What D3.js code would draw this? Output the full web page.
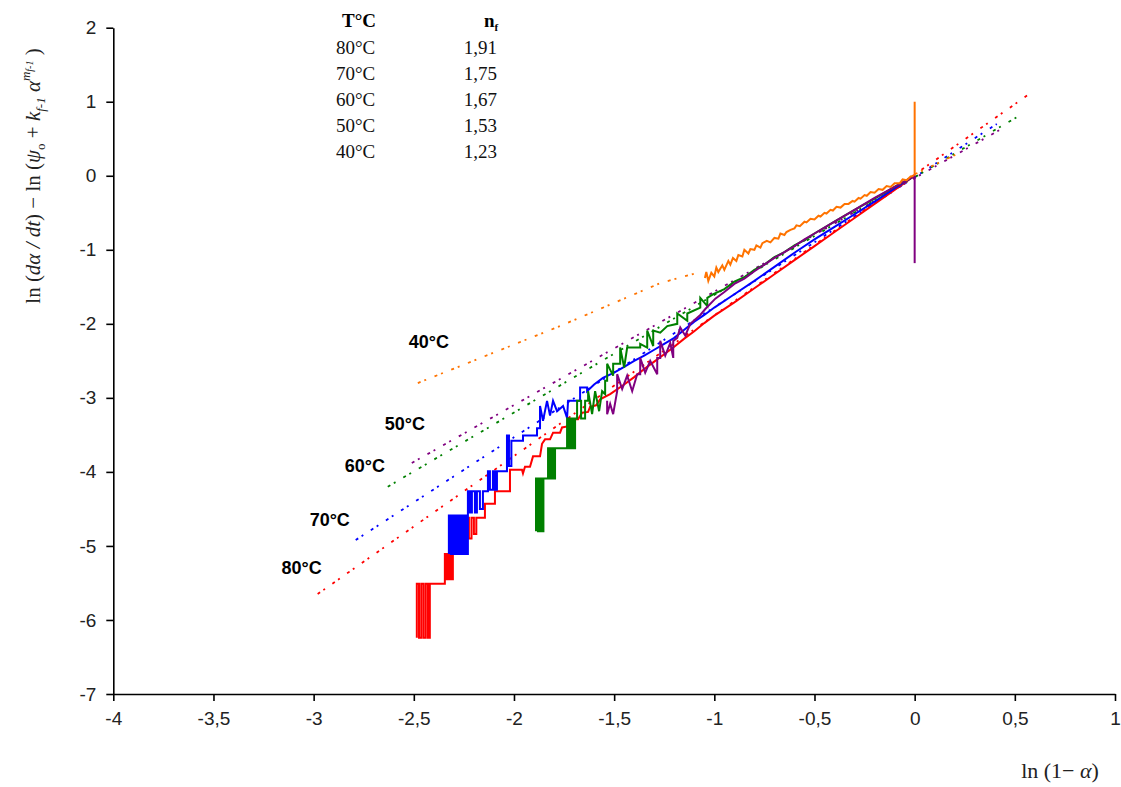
<!DOCTYPE html>
<html><head><meta charset="utf-8">
<script src="https://cdn.jsdelivr.net/npm/d3@7"></script>
<style>body{margin:0;background:#fff} svg{display:block}</style>
</head><body>
<svg id="chart" width="1121" height="787"></svg>
<script>
// ---------- data ----------
const temps = ["80°C", "70°C", "60°C", "50°C", "40°C"];
const nfValues = ["1,91", "1,75", "1,67", "1,53", "1,23"];
const xTicks = [-4, -3.5, -3, -2.5, -2, -1.5, -1, -0.5, 0, 0.5, 1];
const xTickLabels = ["-4", "-3,5", "-3", "-2,5", "-2", "-1,5", "-1", "-0,5", "0", "0,5", "1"];
const yTicks = [2, 1, 0, -1, -2, -3, -4, -5, -6, -7];
const yTickLabels = ["2", "1", "0", "-1", "-2", "-3", "-4", "-5", "-6", "-7"];

// fitted (dotted) lines
const fit80 = [[-2.98, -5.65], [0.575, 1.11]];
const fit70 = [[-2.79, -4.92], [0.41, 0.70]];
const fit60 = [[-2.63, -4.2], [0.54, 0.84]];
const fit50 = [[-2.51, -3.88], [0.425, 0.62]];
const fit40a = [[-2.48, -2.8], [-1.77, -2.03], [-1.27, -1.45], [-1.07, -1.3]];
const fit40b = [[0, 0.02], [0.24, 0.33]];

// experimental curves (solid)
const curve80 = [
  [-2.485,-6.24],[-2.485,-5.51],[-2.474,-5.51],[-2.474,-6.24],[-2.463,-6.24],[-2.463,-5.51],[-2.452,-5.51],[-2.452,-6.24],[-2.441,-6.24],[-2.441,-5.51],[-2.43,-5.51],[-2.43,-6.24],[-2.42,-6.24],[-2.42,-5.51],
  [-2.345,-5.51],[-2.345,-5.11],[-2.335,-5.11],[-2.335,-5.45],[-2.325,-5.45],[-2.325,-5.11],[-2.315,-5.11],[-2.315,-5.45],[-2.305,-5.45],[-2.305,-5.11],[-2.3,-5.11],
  [-2.235,-5.11],[-2.235,-4.62],[-2.225,-4.62],[-2.225,-4.9],[-2.212,-4.9],[-2.212,-4.62],[-2.2,-4.62],[-2.2,-4.84],[-2.188,-4.84],[-2.188,-4.62],
  [-2.145,-4.62],[-2.145,-4.43],[-2.095,-4.43],[-2.095,-4.26],[-2.055,-4.26],[-2.02,-4.26],[-2.02,-3.97],[-1.96,-3.97],[-1.955,-4.02],[-1.945,-3.93],
  [-1.92,-3.93],[-1.905,-3.79],[-1.87,-3.79],[-1.86,-3.62],[-1.845,-3.56],[-1.82,-3.56],[-1.805,-3.47],[-1.77,-3.47],[-1.76,-3.4],[-1.72,-3.38],
  [-1.71,-3.29],[-1.68,-3.29],[-1.66,-3.2],[-1.63,-3.19],[-1.62,-3.12],[-1.59,-3.1],[-1.57,-3.02],[-1.52,-2.95],
  [-1.45,-2.82],[-1.4,-2.72],[-1.35,-2.61],[-1.3,-2.51],[-1.25,-2.41],[-1.2,-2.31],[-1.15,-2.2],[-1.1,-2.1],[-1.05,-1.99],[-1.0,-1.89],
  [-0.9,-1.71],[-0.8,-1.52],[-0.7,-1.33],[-0.6,-1.14],[-0.5,-0.95],[-0.4,-0.76],[-0.3,-0.57],[-0.2,-0.38],[-0.1,-0.19],[0,0]
];
const curve70 = [
  [-2.325,-5.11],[-2.325,-4.59],[-2.315,-4.59],[-2.315,-5.11],[-2.305,-5.11],[-2.305,-4.59],[-2.295,-4.59],[-2.295,-5.11],[-2.285,-5.11],[-2.285,-4.59],
  [-2.275,-4.59],[-2.275,-5.11],[-2.265,-5.11],[-2.265,-4.59],[-2.255,-4.59],[-2.255,-5.11],[-2.245,-5.11],[-2.245,-4.59],[-2.238,-4.59],[-2.238,-5.11],
  [-2.23,-5.11],[-2.23,-4.26],[-2.22,-4.26],[-2.22,-4.55],[-2.21,-4.55],[-2.21,-4.26],[-2.195,-4.26],[-2.195,-4.55],[-2.185,-4.55],[-2.185,-4.26],[-2.17,-4.26],[-2.17,-4.5],[-2.155,-4.5],[-2.155,-4.26],
  [-2.13,-4.26],[-2.13,-3.99],[-2.12,-3.99],[-2.12,-4.24],[-2.105,-4.24],[-2.105,-3.99],[-2.095,-3.99],[-2.095,-4.24],[-2.085,-4.24],[-2.085,-3.99],
  [-2.035,-3.99],[-2.035,-3.51],[-2.025,-3.51],[-2.025,-3.92],[-2.013,-3.92],[-2.013,-3.58],[-1.995,-3.58],
  [-1.955,-3.58],[-1.955,-3.51],[-1.885,-3.51],[-1.885,-3.41],[-1.87,-3.41],[-1.87,-3.11],[-1.855,-3.31],[-1.835,-3.04],[-1.82,-3.24],[-1.805,-3.04],
  [-1.785,-3.18],[-1.755,-3.11],[-1.735,-3.27],[-1.73,-3.04],[-1.67,-3.04],[-1.67,-2.86],[-1.635,-2.86],[-1.635,-2.91],[-1.6,-2.82],[-1.556,-2.73],
  [-1.5,-2.66],[-1.45,-2.58],[-1.4,-2.5],[-1.35,-2.43],[-1.3,-2.35],[-1.25,-2.27],[-1.2,-2.19],[-1.15,-2.08],[-1.1,-1.97],[-1.05,-1.88],[-1.0,-1.78],
  [-0.9,-1.6],[-0.8,-1.42],[-0.7,-1.23],[-0.6,-1.04],[-0.5,-0.86],[-0.4,-0.69],[-0.3,-0.52],[-0.2,-0.35],[-0.1,-0.17],[0,0]
];
const curve60 = [
  [-1.89,-4.8],[-1.89,-4.09],[-1.88,-4.09],[-1.88,-4.8],[-1.87,-4.8],[-1.87,-4.09],[-1.86,-4.09],[-1.86,-4.8],[-1.853,-4.8],[-1.853,-4.09],
  [-1.83,-4.09],[-1.83,-3.68],[-1.82,-3.68],[-1.82,-4.09],[-1.81,-4.09],[-1.81,-3.68],[-1.8,-3.68],[-1.8,-4.09],[-1.795,-4.09],[-1.795,-3.68],
  [-1.735,-3.68],[-1.735,-3.28],[-1.725,-3.28],[-1.725,-3.68],[-1.715,-3.68],[-1.715,-3.28],[-1.705,-3.28],[-1.705,-3.68],[-1.695,-3.68],[-1.695,-3.28],
  [-1.685,-3.28],[-1.685,-3.04],[-1.665,-3.04],[-1.665,-3.28],[-1.645,-3.28],[-1.645,-3.04],[-1.63,-3.04],[-1.63,-2.91],[-1.61,-3.22],[-1.595,-2.91],
  [-1.575,-3.18],[-1.56,-2.91],[-1.545,-2.95],[-1.545,-2.77],[-1.535,-2.77],[-1.535,-2.54],[-1.505,-2.7],[-1.505,-2.54],[-1.47,-2.54],[-1.47,-2.32],
  [-1.45,-2.59],[-1.435,-2.32],[-1.37,-2.32],[-1.37,-2.27],[-1.335,-2.32],[-1.335,-2.09],[-1.305,-2.3],[-1.305,-2.09],[-1.27,-2.12],[-1.235,-2.03],
  [-1.185,-2.0],[-1.185,-1.86],[-1.135,-1.96],[-1.135,-1.86],[-1.07,-1.78],[-1.07,-1.65],[-1.035,-1.76],[-1.035,-1.65],[-1.005,-1.6],
  [-0.95,-1.53],[-0.9,-1.43],[-0.85,-1.37],[-0.8,-1.27],[-0.75,-1.2],[-0.7,-1.1],[-0.65,-1.03],[-0.6,-0.94],[-0.55,-0.87],[-0.5,-0.78],
  [-0.4,-0.62],[-0.3,-0.46],[-0.2,-0.31],[-0.1,-0.15],[0,0]
];
const curve50 = [
  [-1.535,-3.04],[-1.535,-3.22],[-1.52,-3.08],[-1.505,-3.22],[-1.485,-2.91],[-1.485,-2.68],[-1.46,-2.88],[-1.435,-2.7],[-1.41,-2.91],[-1.385,-2.68],
  [-1.37,-2.68],[-1.37,-2.46],[-1.345,-2.66],[-1.32,-2.5],[-1.285,-2.68],[-1.285,-2.46],[-1.27,-2.46],[-1.27,-2.23],[-1.245,-2.43],[-1.22,-2.26],
  [-1.205,-2.46],[-1.205,-2.23],[-1.185,-2.19],[-1.17,-2.05],[-1.145,-2.16],[-1.12,-2.0],[-1.07,-1.88],[-1.045,-1.8],[-0.995,-1.66],
  [-0.95,-1.57],[-0.9,-1.46],[-0.85,-1.39],[-0.8,-1.29],[-0.75,-1.2],[-0.7,-1.11],[-0.65,-1.03],[-0.6,-0.95],[-0.55,-0.86],[-0.5,-0.78],
  [-0.4,-0.62],[-0.3,-0.46],[-0.2,-0.3],[-0.1,-0.15],[0,0]
];
const curve40 = [
  [-1.047,-1.38],[-1.04,-1.3],[-1.03,-1.42],[-1.015,-1.31],[-1.0,-1.36],[-0.99,-1.24],[-0.98,-1.3],[-0.96,-1.21],[-0.95,-1.27],[-0.93,-1.15],
  [-0.92,-1.2],[-0.907,-1.11],[-0.89,-1.15],[-0.88,-1.07],[-0.86,-1.09],[-0.85,-1.0],[-0.83,-1.05],[-0.82,-0.99],[-0.8,-1.0],[-0.79,-0.94],
  [-0.77,-0.97],[-0.76,-0.91],[-0.738,-0.88],[-0.72,-0.9],[-0.7,-0.84],[-0.68,-0.85],[-0.67,-0.78],[-0.65,-0.8],[-0.64,-0.76],[-0.62,-0.73],
  [-0.6,-0.71],[-0.59,-0.67],[-0.573,-0.68],[-0.55,-0.62],[-0.54,-0.63],[-0.52,-0.58],[-0.5,-0.59],[-0.48,-0.54],[-0.47,-0.55],[-0.45,-0.5],
  [-0.44,-0.51],[-0.42,-0.46],[-0.408,-0.47],[-0.39,-0.42],[-0.37,-0.43],[-0.35,-0.38],[-0.33,-0.38],[-0.31,-0.34],[-0.3,-0.35],[-0.28,-0.3],
  [-0.27,-0.31],[-0.25,-0.26],[-0.239,-0.27],[-0.22,-0.22],[-0.2,-0.23],[-0.18,-0.18],[-0.16,-0.19],[-0.14,-0.14],[-0.12,-0.15],[-0.1,-0.1],
  [-0.074,-0.1],[-0.06,-0.05],[-0.04,-0.06],[-0.02,-0.01],[0,0]
];
const spike40 = [[0, 0], [0, 1.0]];
const spike50 = [[0, 0], [0, -1.18]];

// temperature label anchors (data units)
const labelX = [-3.16, -3.02, -2.845, -2.645, -2.525];
const labelY = [-5.38, -4.73, -4.0, -3.44, -2.32];

// ---------- drawing ----------
const colors = {"80°C":"#ff0000","70°C":"#0000ff","60°C":"#008000","50°C":"#800080","40°C":"#ff7300"};
const svg = d3.select("#chart");
const x = d3.scaleLinear().domain([-4, 1]).range([113.3, 1115]);
const y = d3.scaleLinear().domain([-7, 2]).range([694, 27.7]);
const line = d3.line().x(d => x(d[0])).y(d => y(d[1]));

// axes
const gx = svg.append("g").attr("transform", `translate(0,${y(-7)})`)
  .call(d3.axisBottom(x).tickValues(xTicks).tickFormat((d, i) => xTickLabels[i]).tickSize(7).tickSizeOuter(0).tickPadding(11));
const gy = svg.append("g").attr("transform", `translate(${x(-4)},0)`)
  .call(d3.axisLeft(y).tickValues(yTicks).tickFormat((d, i) => yTickLabels[i]).tickSize(7).tickSizeOuter(0).tickPadding(10));
[gx, gy].forEach(g => {
  g.select(".domain").attr("stroke", "#000").attr("stroke-width", 1.6);
  g.selectAll(".tick line").attr("stroke", "#000").attr("stroke-width", 1.6);
  g.selectAll(".tick text").attr("font-family", "Liberation Sans, Arial, sans-serif").attr("font-size", 19).attr("fill", "#222");
});

// dotted fits
const fits = [["80°C", fit80], ["70°C", fit70], ["60°C", fit60], ["50°C", fit50], ["40°C", fit40a], ["40°C", fit40b]];
fits.forEach(([t, pts]) => {
  svg.append("path").datum(pts).attr("d", line).attr("fill", "none")
    .attr("stroke", colors[t]).attr("stroke-width", 1.8).attr("stroke-dasharray", "3,4,2,9");
});

// solid curves
const curves = [["80°C", curve80], ["70°C", curve70], ["60°C", curve60], ["50°C", curve50], ["40°C", curve40], ["40°C", spike40], ["50°C", spike50]];
curves.forEach(([t, pts]) => {
  svg.append("path").datum(pts).attr("d", line).attr("fill", "none")
    .attr("stroke", colors[t]).attr("stroke-width", 2).attr("stroke-linejoin", "miter");
});

// temperature labels
temps.forEach((t, i) => {
  svg.append("text").attr("x", x(labelX[i])).attr("y", y(labelY[i]))
    .attr("font-family", "Liberation Sans, Arial, sans-serif").attr("font-weight", "bold")
    .attr("font-size", 18).attr("fill", "#000").text(t);
});

// table
const serif = "Liberation Serif, Times New Roman, serif";
svg.append("text").attr("x", 342).attr("y", 27).attr("font-family", serif).attr("font-weight", "bold")
  .attr("font-size", 19).text("T°C");
const nf = svg.append("text").attr("x", 484).attr("y", 27).attr("font-family", serif).attr("font-weight", "bold").attr("font-size", 19);
nf.append("tspan").text("n");
nf.append("tspan").attr("font-size", 11).attr("dy", 4).text("f");
temps.forEach((t, i) => {
  const by = 54 + i * 26;
  svg.append("text").attr("x", 336).attr("y", by).attr("font-family", serif).attr("font-size", 19).attr("fill", "#111").text(t);
  svg.append("text").attr("x", 497).attr("y", by).attr("text-anchor", "end").attr("font-family", serif).attr("font-size", 19).attr("fill", "#111").text(nfValues[i]);
});

// y-axis title
const yt = svg.append("text").attr("transform", "translate(40,176) rotate(-90)").attr("text-anchor", "middle")
  .attr("font-family", serif).attr("font-size", 21).attr("fill", "#222");
yt.append("tspan").text("ln (");
yt.append("tspan").attr("font-style", "italic").text("dα / dt");
yt.append("tspan").text(") − ln (");
yt.append("tspan").attr("font-style", "italic").text("ψ");
yt.append("tspan").attr("font-size", 13).attr("dy", 5).text("o");
yt.append("tspan").attr("dy", -5).text(" + ");
yt.append("tspan").attr("font-style", "italic").text("k");
yt.append("tspan").attr("font-size", 13).attr("dy", 5).attr("font-style", "italic").text("f-1");
yt.append("tspan").attr("dy", -5).attr("font-style", "italic").text(" α");
yt.append("tspan").attr("font-size", 13).attr("dy", -10).attr("font-style", "italic").text("m");
yt.append("tspan").attr("font-size", 10).attr("dy", 3).attr("font-style", "italic").text("f-1");
yt.append("tspan").attr("dy", 7).text(" )");

// x-axis title
const xt = svg.append("text").attr("x", 1060).attr("y", 778).attr("text-anchor", "middle")
  .attr("font-family", serif).attr("font-size", 22).attr("fill", "#222");
xt.append("tspan").text("ln (1− ");
xt.append("tspan").attr("font-style", "italic").text("α");
xt.append("tspan").text(")");
</script>
</body></html>
